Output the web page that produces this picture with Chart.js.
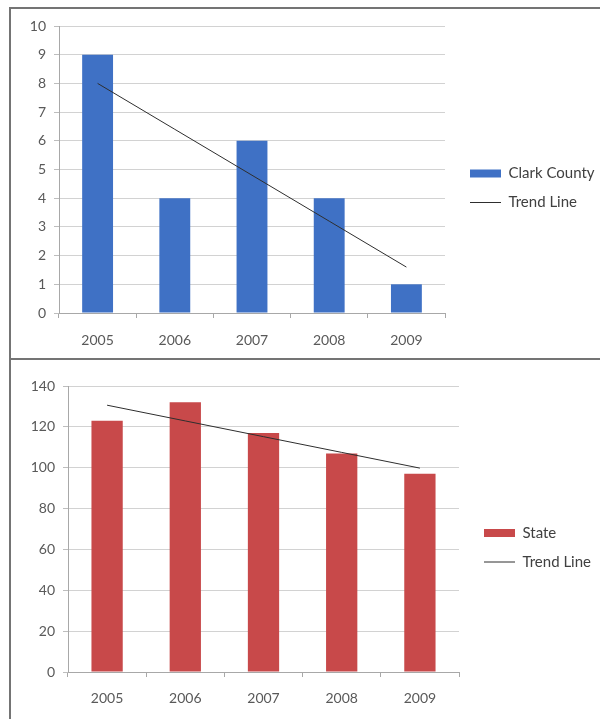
<!DOCTYPE html>
<html>
<head>
<meta charset="utf-8">
<script src="https://cdn.jsdelivr.net/npm/chart.js@4/dist/chart.umd.min.js"></script>
<style>
  html, body { margin: 0; padding: 0; background: #fff; }
  #page { position: relative; width: 600px; height: 719px; overflow: hidden; background: #fff; }
  .frame { position: absolute; left: 9px; width: 620px; border: 2px solid #747474; box-sizing: border-box; }
  #frame1 { top: 7px; height: 353px; }
  #frame2 { top: 358px; height: 400px; }
  .holder { position: absolute; left: 0; width: 600px; }
  #holder1 { top: 0; height: 360px; }
  #holder2 { top: 360px; height: 359px; }
  canvas { display: block; }
</style>
</head>
<body>
<div id="page">
  <div class="frame" id="frame1"></div>
  <div class="frame" id="frame2"></div>
  <div class="holder" id="holder1"><canvas id="clarkChart" width="600" height="360"></canvas></div>
  <div class="holder" id="holder2"><canvas id="stateChart" width="600" height="359"></canvas></div>
</div>
<script>
// Categories
const years = ['2005', '2006', '2007', '2008', '2009'];

// Clark County counts and their fitted trend
const clarkCounty = [9, 4, 6, 4, 1];
const clarkTrend = [8.0, 6.4, 4.8, 3.2, 1.6];

// State counts and their fitted trend
const stateCounts = [123, 132, 117, 107, 97];
const stateTrend = [130.6, 122.9, 115.2, 107.5, 99.8];

// Value axis ranges
const clarkAxis = { min: 0, max: 10, step: 1 };
const stateAxis = { min: 0, max: 140, step: 20 };

Chart.defaults.font.family = 'Lato, "Open Sans", "Liberation Sans", sans-serif';
Chart.defaults.font.size = 14;
Chart.defaults.color = '#595959';

// Gives the legend a fixed width and nudges where its items sit.
const legendPlacement = {
  id: 'legendPlacement',
  afterInit(chart, args, opts) {
    const legend = chart.legend;
    const fit = legend.fit.bind(legend);
    legend.fit = function () { fit(); this.width = opts.width; };
  },
  afterLayout(chart, args, opts) {
    const l = chart.legend;
    l.left += opts.dx; l.right += opts.dx;
    l.top += opts.dy; l.bottom += opts.dy;
  }
};

function buildChart(canvasId, barLabel, barValues, trendValues, barColor, axis, geo) {
  return new Chart(document.getElementById(canvasId), {
    data: {
      labels: years,
      datasets: [
        {
          type: 'bar',
          label: barLabel,
          data: barValues,
          backgroundColor: barColor,
          borderWidth: 0,
          categoryPercentage: 1,
          barPercentage: 0.4,
          pointStyle: 'rect',
          order: 1
        },
        {
          type: 'line',
          label: 'Trend Line',
          data: trendValues,
          borderColor: '#2e2e2e',
          backgroundColor: '#2e2e2e',
          borderWidth: 1,
          pointRadius: 0,
          tension: 0,
          fill: false,
          pointStyle: 'line',
          order: 0
        }
      ]
    },
    options: {
      responsive: false,
      animation: false,
      devicePixelRatio: 1,
      layout: { padding: { left: 0, right: 0, top: geo.top, bottom: 0 } },
      plugins: {
        tooltip: { enabled: false },
        legend: {
          position: 'right',
          labels: {
            usePointStyle: true,
            pointStyleWidth: 31,
            boxHeight: 8,
            padding: 14,
            color: '#404040',
            font: { size: 15 },
            sort: (a, b) => a.datasetIndex - b.datasetIndex
          }
        },
        legendPlacement: { width: geo.legendWidth, dx: geo.legendDx, dy: geo.legendDy }
      },
      scales: {
        x: {
          offset: true,
          afterFit: (s) => { s.height = geo.xHeight; },
          grid: { drawOnChartArea: false, drawTicks: true, tickLength: 5, offset: true, color: '#a8a8a8' },
          border: { color: '#a8a8a8' },
          ticks: { padding: geo.xPad, color: '#595959' }
        },
        y: {
          min: axis.min,
          max: axis.max,
          afterFit: (s) => { s.width = geo.yWidth; },
          grid: { color: '#d2d2d2', tickLength: 5, tickColor: '#bdbdbd' },
          border: { color: '#a8a8a8' },
          ticks: { stepSize: axis.step, padding: 8, color: '#595959' }
        }
      }
    },
    plugins: [legendPlacement]
  });
}

buildChart('clarkChart', 'Clark County', clarkCounty, clarkTrend, '#3f71c5', clarkAxis, {
  top: 26, xHeight: 360 - 313, yWidth: 59, xPad: 14,
  legendWidth: 155, legendDx: 11, legendDy: -5
});

buildChart('stateChart', 'State', stateCounts, stateTrend, '#c8494a', stateAxis, {
  top: 26, xHeight: 359 - 312, yWidth: 68, xPad: 13,
  legendWidth: 141, legendDx: 11, legendDy: -5
});
</script>
</body>
</html>
